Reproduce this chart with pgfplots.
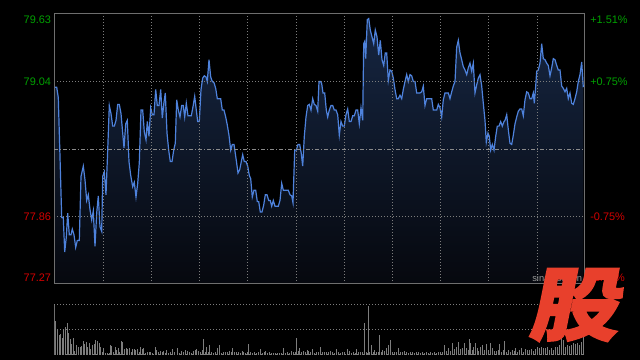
\documentclass[border=0pt]{standalone}
\usepackage{fontspec}
\setmainfont{Liberation Sans}
\newfontfamily\cjk[FakeSlant=0.18,FakeBold=2]{Noto Sans CJK SC}
\usepackage{pgfplots}
\usepackage{pgfplotstable}
\pgfplotsset{compat=1.18}
\definecolor{upgreen}{RGB}{0,160,0}
\definecolor{downred}{RGB}{210,0,0}
\definecolor{frame}{RGB}{110,110,110}
\definecolor{gridc}{RGB}{125,125,125}
\definecolor{lineblue}{RGB}{78,130,220}
\definecolor{filltop}{RGB}{22,38,66}
\definecolor{fillbot}{RGB}{6,8,14}
\definecolor{volc}{RGB}{125,125,125}
\definecolor{wm}{RGB}{232,64,44}

\pgfplotstableread{
x y
1 78.99
2.7 78.99
4.3 78.90
6 78.38
7.7 77.85
9.3 77.85
10.7 77.55
12.3 77.68
13.7 77.89
15.3 77.70
17 77.70
18.3 77.75
20 77.70
21.7 77.59
23.3 77.65
25.3 77.65
27 78.21
29.3 78.30
31 78.18
32.7 78.00
34.3 78.05
36 77.92
37.7 77.83
39.3 77.91
41 77.60
42.7 77.89
44.3 78.04
46 77.77
47.7 77.73
48.7 78.21
50.3 78.25
52 78.05
53.7 78.44
55.3 78.83
57 78.76
58.7 78.65
60.3 78.65
62 78.70
63.7 78.84
65.3 78.84
67 78.76
68.7 78.59
70 78.46
71.7 78.67
73.3 78.70
75 78.34
76.7 78.22
78.7 78.12
80.3 78.16
82 78.03
83.7 78.15
85.3 78.33
87 78.79
88.7 78.79
90.3 78.60
92 78.53
93.3 78.69
95 78.56
96.7 78.81
98.3 78.75
100 78.75
101.7 78.97
103.3 78.83
105 78.83
106.7 78.97
108.3 78.72
110 78.86
111.3 78.94
113 78.59
114.7 78.44
116.3 78.34
118 78.34
119.7 78.44
121.3 78.50
122.7 78.88
124.3 78.79
126 78.73
127.7 78.83
129.3 78.83
130.7 78.73
132.3 78.85
134 78.74
135.7 78.74
137.3 78.74
139 78.82
140.7 78.91
142.3 78.79
143.7 78.69
145.3 78.69
147 78.97
148.7 79.07
150.3 79.09
152 79.08
153.3 79.04
155 79.23
156.7 79.08
158.3 79.04
160 79.03
161.7 78.98
163.3 78.89
165 78.89
166.7 78.89
168.3 78.79
170 78.79
171.7 78.73
173.3 78.66
175 78.57
176.7 78.44
178.3 78.49
180 78.49
182.3 78.35
184 78.24
185.7 78.27
187.3 78.34
188.7 78.40
190.3 78.34
192 78.34
193.7 78.30
195.3 78.22
196.7 78.19
198.3 78.03
200 78.09
201.7 78.09
203.3 77.99
204.7 77.99
206.3 77.90
208 77.90
209.7 77.96
211.3 78.05
213 78.05
214.7 78.00
216.3 78.00
217.7 77.95
219.3 78.00
221 77.95
222.7 77.95
224.3 77.95
226 78.00
227.7 78.15
229.3 78.09
231 78.09
232.7 78.09
234.3 78.09
236 78.05
237.7 78.04
239 77.98
240.7 78.44
242.3 78.44
244 78.49
245.7 78.49
247.3 78.41
248.7 78.30
250.3 78.56
252 78.73
253.7 78.83
255.3 78.84
257 78.79
258.7 78.89
260.3 78.84
262 78.83
263.7 78.78
265 79.04
266.7 79.04
267.7 79.02
269 78.94
270.7 78.94
272.3 78.79
273.7 78.73
275.3 78.79
277 78.83
278.7 78.83
280.3 78.79
282 78.79
283.7 78.75
285.3 78.57
287 78.69
288.7 78.65
290.3 78.65
292 78.75
293.7 78.80
295.3 78.69
297 78.69
298.7 78.74
300.3 78.74
302 78.79
303.7 78.79
305.3 78.67
307 78.81
308.7 78.70
309.7 79.37
310.7 79.39
311.7 79.24
313.3 79.58
314.7 79.59
316.3 79.49
318 79.43
319.7 79.37
321.3 79.49
323 79.43
324.7 79.27
326.3 79.40
328 79.23
329.7 79.18
331.3 79.29
332.7 79.29
334.3 79.05
336 79.14
337.7 79.13
339.3 79.07
341 78.97
342.7 78.89
344.3 78.89
346 78.92
347.7 78.89
349.3 78.97
351 79.04
352.7 79.10
354.3 79.04
356 79.10
357.7 79.09
359.3 79.04
361 79.04
362.7 78.94
364.3 78.94
366 78.94
367.7 78.95
369.3 79.00
371 78.83
372.7 78.89
374.3 78.89
376 78.89
377.7 78.89
379.3 78.79
381 78.79
382.7 78.79
384.3 78.84
386 78.81
387.7 78.73
389.3 78.88
391 78.94
392.7 78.94
394.3 78.94
396 78.89
397.7 78.95
399.3 79.00
401 79.04
402.7 79.34
404.3 79.40
406 79.29
407.7 79.23
409.3 79.17
411 79.14
412.7 79.10
414.3 79.16
416 79.20
417.7 79.13
419.3 79.20
421 78.94
422.7 79.01
424.3 79.07
426 79.10
427.7 79.00
429.3 78.85
431 78.70
432.3 78.51
434 78.59
435.3 78.56
436.7 78.44
438.3 78.49
440 78.44
441.7 78.56
443.3 78.65
445 78.65
446.7 78.69
448.3 78.65
450 78.69
451 78.70
452.7 78.75
454.3 78.62
456 78.50
457.7 78.49
459.3 78.57
461 78.67
462.7 78.73
464.3 78.78
466 78.80
467.7 78.80
469.3 78.74
471 78.88
472.7 78.95
474.3 78.94
476 78.89
477.7 78.89
479.3 78.94
480.3 78.85
481.7 79.00
482.7 79.13
484.3 79.14
486 79.20
487.7 79.37
489.3 79.24
491 79.23
492.7 79.20
494.3 79.18
496 79.09
497.7 79.16
499.3 79.24
501 79.23
502.7 79.18
504.3 79.14
506 79.14
507.7 79.00
509.3 78.98
511 78.95
512.7 78.98
514.3 78.89
516 78.94
517.7 78.85
519.3 78.84
521 78.89
522.7 78.95
524.3 79.04
526 79.10
527.7 79.21
529.3 78.99
}\price

\pgfplotstableread{
x v
0.3 50
1.3 34
3.3 26
5.3 20
6.3 21
8.3 17
9.3 26
11.3 28
13.3 32
14.3 22
16.3 16
17.3 11
19.3 17
20.3 4
22.3 10
24.3 8
26.3 8
27.3 9
29.3 14
30.3 11
32.3 13
33.3 8
35.3 12
36.3 6
38.3 10
40.3 11
41.3 15
43.3 14
45.3 12
46.3 8
48.3 3
49.3 7
51.3 2
53.3 2
55.3 2
56.3 10
57.3 9
59.3 3
61.3 8
62.3 5
64.3 7
65.3 3
67.3 14
68.3 13
70.3 6
72.3 7
73.3 6
75.3 7
77.3 3
78.3 6
80.3 6
81.3 5
83.3 6
85.3 3
86.3 8
88.3 6
89.3 7
91.3 2
93.3 3
95.3 3
96.3 3
98.3 2
101.3 8
102.3 5
104.3 3
106.3 4
108.3 3
109.3 4
111.3 2
112.3 5
114.3 2
116.3 3
118.3 6
120.3 3
123.3 7
125.3 2
127.3 4
129.3 3
131.3 5
133.3 4
135.3 3
137.3 2
139.3 4
141.3 5
142.3 6
144.3 4
146.3 3
148.3 5
149.3 16
151.3 3
152.3 8
154.3 3
155.3 10
157.3 3
159.3 2
161.3 3
163.3 7
165.3 10
167.3 2
169.3 3
171.3 3
173.3 3
175.3 4
177.3 3
178.3 7
180.3 3
182.3 3
184.3 3
186.3 2
188.3 4
189.3 3
191.3 2
193.3 3
194.3 11
196.3 3
198.3 2
200.3 3
202.3 2
204.3 3
206.3 6
208.3 2
210.3 3
211.3 4
213.3 2
215.3 3
217.3 2
219.3 2
221.3 2
223.3 2
225.3 2
227.3 2
229.3 7
231.3 2
233.3 3
235.3 2
237.3 4
239.3 3
241.3 3
242.3 17
244.3 4
245.3 7
247.3 3
249.3 4
251.3 3
253.3 5
254.3 4
256.3 3
258.3 6
260.3 2
262.3 3
264.3 3
266.3 8
268.3 3
270.3 3
272.3 3
274.3 3
276.3 4
278.3 3
280.3 2
282.3 6
284.3 3
286.3 2
288.3 3
290.3 3
293 6
295 4
297 2
299 3
301 2
302.3 6
304.3 3
306.3 3
308.3 3
310.3 32
312.3 3
313.3 2
314.3 49
315.3 3
317.3 10
319.3 3
320.3 5
322.3 3
324.3 3
325.3 20
327.3 3
328.3 5
330.3 4
332.3 7
334.3 10
336.3 15
338.3 3
340.3 3
342.3 3
344.3 7
346.3 3
348.3 3
350.3 4
352.3 3
354.3 2
356.3 3
358.3 3
360.3 2
362.3 3
364.3 3
366.3 2
368.3 3
370.3 2
372.3 3
374.3 2
376.3 3
378.3 2
380.3 3
382.3 2
384.3 3
386.3 3
388.3 3
390.3 10
392.3 4
394.3 7
396.3 4
398.3 12
400.3 6
402.3 8
404.3 13
406.3 6
408.3 7
410.3 12
412.3 7
414.3 5
415.3 16
416.3 12
418.3 5
419.3 8
421.3 12
423.3 7
424.3 4
426.3 8
428.3 10
430.3 5
432.3 11
434.3 5
436.3 12
438.3 7
440.3 4
442.3 4
444.3 5
445.3 11
447.3 3
449.3 5
450.3 14
452.3 3
454.3 5
456.3 3
458.3 5
460.3 4
461.3 7
463.3 3
465.3 5
467.3 7
469.3 3
471.3 6
473.3 5
475.3 5
477.3 6
479.3 4
481.3 6
483.3 8
485.3 7
487.3 8
489.3 7
491.3 7
493.3 8
495.3 5
497.3 7
499.3 5
501.3 8
503.3 8
505.3 10
507.3 17
509.3 15
511.3 8
513.3 10
515.3 9
517.3 10
519.3 12
521.3 11
523.3 12
525.3 10
527.3 13
529.3 45
}\vol

\begin{document}
\begin{tikzpicture}
\fill[black] (0,0) rectangle (480pt,270pt);

% price panel
\begin{axis}[
  at={(40.5pt,57pt)}, anchor=south west, scale only axis,
  width=397.5pt, height=202.5pt,
  xmin=0, xmax=530, ymin=77.27, ymax=79.63,
  axis on top,
  axis line style={draw=frame, line width=0.75pt},
  xtick={49,97.5,145,193,242,290,338,386.5,434,483},
  ytick={77.86,79.04},
  xticklabels={}, yticklabels={},
  major tick length=0pt,
  grid=major,
  grid style={draw=gridc, line width=0.6pt, dash pattern=on 0.75pt off 1.5pt},
  extra y ticks={78.45}, extra y tick labels={},
  extra y tick style={grid=major, grid style={draw=gridc!90!white, line width=0.6pt, dash pattern=on 3pt off 1.5pt on 0.75pt off 1.5pt}},
]
\addplot[draw=none, top color=filltop, bottom color=fillbot, forget plot] table[x=x,y=y]{\price} -- (axis cs:529.3,77.27) -- (axis cs:1,77.27) -- cycle;
\addplot[lineblue, line width=0.9pt, mark=none] table[x=x,y=y]{\price};
\end{axis}

% volume panel
\begin{axis}[
  at={(40.5pt,3.75pt)}, anchor=south west, scale only axis,
  width=397.5pt, height=37.5pt,
  xmin=0, xmax=530, ymin=0, ymax=50,
  axis line style={draw=none},
  xtick=\empty, ytick={0,25,50}, yticklabels={},
  major tick length=0pt,
  ymajorgrids,
  grid style={draw=gridc, line width=0.75pt, dash pattern=on 0.75pt off 1.5pt},
]
\addplot[ycomb, draw=volc, line width=0.75pt, mark=none] table[x=x,y=v]{\vol};
\draw[frame, line width=0.75pt] (rel axis cs:0,0) -- (rel axis cs:0,1);
\end{axis}

% axis value labels
\begin{scope}[font=\fontsize{8.2}{9}\selectfont]
\node[anchor=east, text=upgreen, inner sep=0] at (38.5pt,255pt) {79.63};
\node[anchor=east, text=upgreen, inner sep=0] at (38.5pt,208.5pt) {79.04};
\node[anchor=east, text=downred, inner sep=0] at (38.5pt,107.25pt) {77.86};
\node[anchor=east, text=downred, inner sep=0] at (38.5pt,61.5pt) {77.27};
\node[anchor=west, text=upgreen, inner sep=0] at (442.5pt,255pt) {+1.51\%};
\node[anchor=west, text=upgreen, inner sep=0] at (442.5pt,208.5pt) {+0.75\%};
\node[anchor=west, text=downred, inner sep=0] at (442.5pt,107.25pt) {-0.75\%};
\node[anchor=west, text=downred, inner sep=0] at (442.5pt,61.5pt) {-1.51\%};
\end{scope}
\node[anchor=west, text=gray!80, inner sep=0, font=\fontsize{7}{8}\selectfont] at (399pt,61.5pt) {sina.com.cn};

% watermark
\node[text=wm, inner sep=0, font=\cjk\bfseries\fontsize{60}{60}\selectfont, xscale=1.12] at (429.75pt,41.25pt) {股};
\useasboundingbox (0,0) rectangle (480pt,270pt);
\end{tikzpicture}
\end{document}
